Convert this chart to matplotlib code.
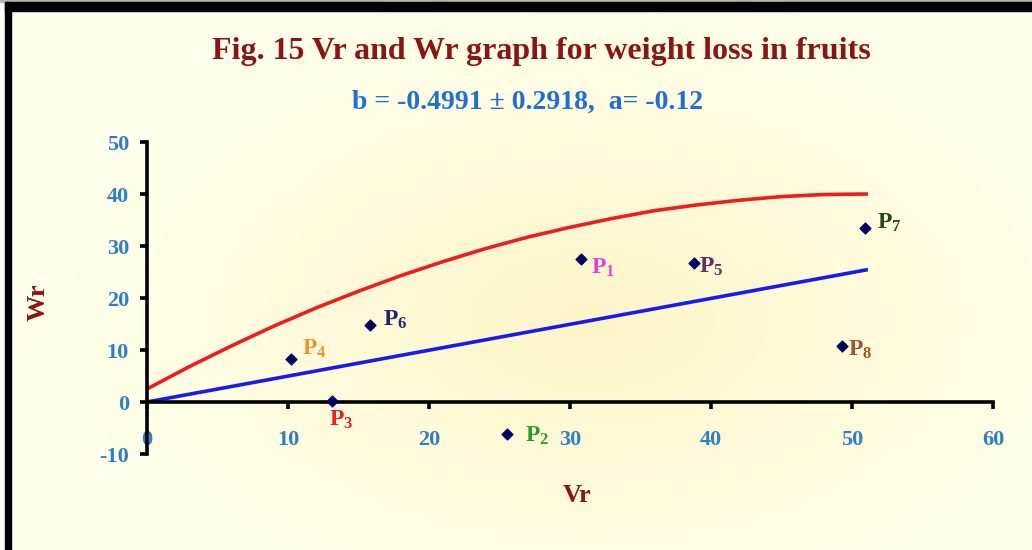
import numpy as np
import matplotlib
matplotlib.use('Agg')
import matplotlib.pyplot as plt
from matplotlib.patches import Rectangle

plt.rcParams['font.family'] = ['Liberation Serif', 'DejaVu Serif']
plt.rcParams['font.weight'] = 'bold'
plt.rcParams['mathtext.fontset'] = 'custom'
plt.rcParams['mathtext.rm'] = 'Liberation Serif:bold'
plt.rcParams['mathtext.it'] = 'Liberation Serif:bold'
plt.rcParams['mathtext.bf'] = 'Liberation Serif:bold'
plt.rcParams['mathtext.default'] = 'rm'
plt.rcParams['axes.unicode_minus'] = False

# parents: Vr, Wr
labels = ['P1', 'P2', 'P3', 'P4', 'P5', 'P6', 'P7', 'P8']
vr = [30.8, 25.5, 13.1, 10.2, 38.8, 15.8, 50.9, 49.3]
wr = [27.5, -6.2, 0.2, 8.3, 26.7, 14.8, 33.5, 10.8]
label_colors = ['#e83ee0', '#2f9a2f', '#e42222', '#f0922a', '#6b2a63', '#22246e', '#1f4a1f', '#a0562a']
label_offsets = [(7, -6.5), (13, -1.5), (-2, -13.5), (8, 7), (3.6, -3), (9.4, 3.6), (8.6, 3.6), (4.3, -3)]

# regression line
line_x = [0, 51]
line_y = [0, 25.4]

# limiting parabola
curve_x = [0, 3, 6, 9, 12, 15, 18, 21, 24, 27, 30, 33, 36, 39, 42, 45, 48, 51]
curve_y = [2.5, 6.8, 10.8, 14.6, 18.1, 21.3, 24.3, 27.0, 29.5, 31.7, 33.6, 35.3, 36.8, 37.9, 38.8, 39.5, 39.9, 40.0]

fig = plt.figure(figsize=(10.32, 5.5), dpi=100)
fig.patch.set_facecolor('white')

# background gradient
bg = fig.add_axes([0, 0, 1, 1], zorder=-2)
yy, xx = np.mgrid[0:550, 0:1032]
r = np.sqrt(((xx - 590) / 560.0) ** 2 + ((yy - 320) / 330.0) ** 2)
t = np.clip(r, 0, 1)[..., None] ** 0.8
c_in = np.array([253, 245, 198]) / 255.0
c_out = np.array([255, 255, 235]) / 255.0
img = c_in * (1 - t) + c_out * t
bg.imshow(img, aspect='auto', extent=[0, 1032, 550, 0])
bg.set_xlim(0, 1032)
bg.set_ylim(550, 0)
bg.axis('off')
# frame
bg.add_patch(Rectangle((0, 0), 5, 550, color='white', zorder=3))
bg.add_patch(Rectangle((0, 0), 1032, 1.5, color='#b8b8a8', zorder=3))
bg.add_patch(Rectangle((5, 1.5), 1027, 9, color='black', zorder=4))
bg.add_patch(Rectangle((5, 1.5), 6, 550, color='black', zorder=4))

ax = fig.add_axes([147 / 1032, 96 / 550, 846 / 1032, 312 / 550])
ax.set_facecolor('none')

ax.plot(curve_x, curve_y, color='#ee1c1c', lw=2.6, zorder=2)
ax.plot(line_x, line_y, color='#1a1aee', lw=2.6, zorder=2)
ax.scatter(vr, wr, marker='D', s=30, color='#000060', zorder=3)

for i in range(len(labels)):
    ax.annotate('P$_{' + labels[i][1:] + '}$', (vr[i], wr[i]), textcoords='offset points',
                xytext=label_offsets[i], color=label_colors[i], fontsize=17,
                fontweight='bold', ha='left', va='center', zorder=4)

ax.set_xlim(0, 60)
ax.set_ylim(-10, 50)
ax.set_xticks(range(0, 61, 10))
ax.set_yticks(range(-10, 51, 10))
ax.spines['left'].set_position(('data', 0))
ax.spines['bottom'].set_position(('data', 0))
ax.spines['top'].set_visible(False)
ax.spines['right'].set_visible(False)
for s in ['left', 'bottom']:
    ax.spines[s].set_linewidth(2.6)
    ax.spines[s].set_color('black')
ax.tick_params(axis='both', direction='out', length=5, width=2.6, color='black',
               labelcolor='#2f7fc6', labelsize=16)
ax.tick_params(axis='x', pad=15)
ax.tick_params(axis='y', pad=8)
for lab in ax.get_xticklabels() + ax.get_yticklabels():
    lab.set_fontweight('bold')

fig.text(541 / 1032, 1 - 52 / 550, 'Fig. 15 Vr and Wr graph for weight loss in fruits',
         ha='center', va='center', color='#8b1414', fontsize=23, fontweight='bold')
fig.text(528 / 1032, 1 - 102 / 550, 'b = -0.4991 \u00b1 0.2918,  a= -0.12',
         ha='center', va='center', color='#1f6fd4', fontsize=20, fontweight='bold')
fig.text(38 / 1032, 1 - 302 / 550, 'Wr', rotation=90, ha='center', va='center',
         color='#8b1414', fontsize=19, fontweight='bold')
fig.text(577 / 1032, 1 - 495 / 550, 'Vr', ha='center', va='center',
         color='#8b1414', fontsize=19, fontweight='bold')

fig.savefig('out.png', dpi=100)
